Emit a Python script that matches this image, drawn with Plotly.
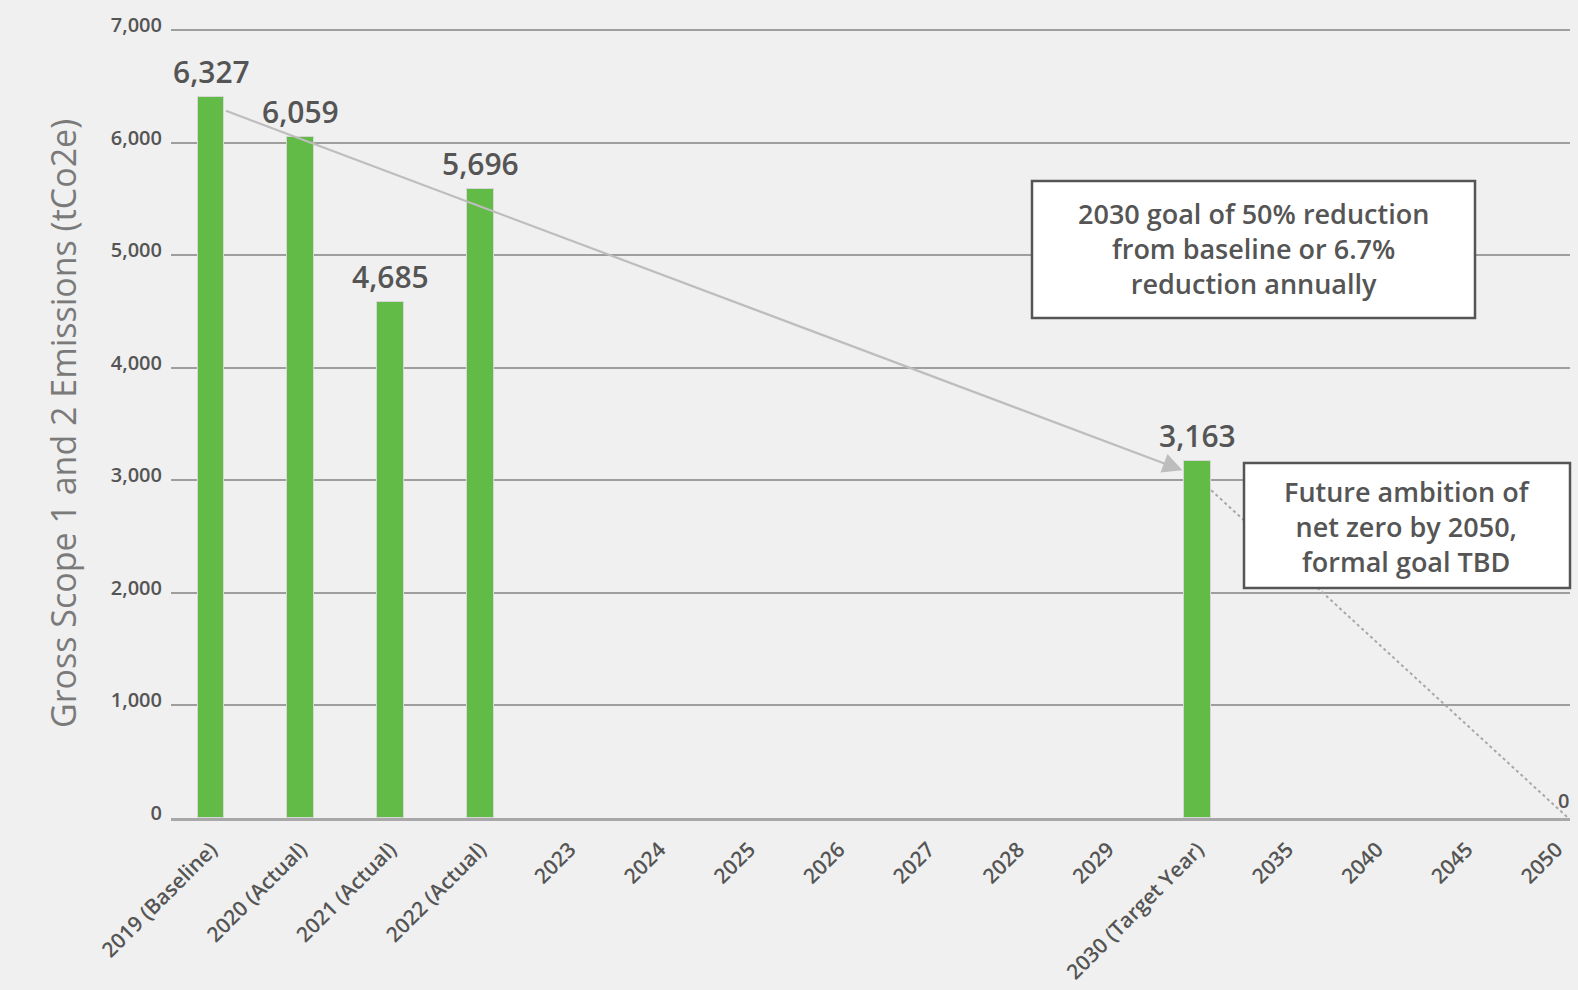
import plotly.graph_objects as go

# ---------------- data ----------------
categories = ["2019 (Baseline)", "2020 (Actual)", "2021 (Actual)", "2022 (Actual)",
              "2023", "2024", "2025", "2026", "2027", "2028", "2029",
              "2030 (Target Year)", "2035", "2040", "2045", "2050"]
bar_index = [0, 1, 2, 3, 11]                       # positions of categories that carry a bar
bar_values = [6410, 6050, 4590, 5590, 3170]        # bar heights as drawn
bar_labels = ["6,327", "6,059", "4,685", "5,696", "3,163"]
y_ticks = [0, 1000, 2000, 3000, 4000, 5000, 6000, 7000]
y_tick_text = ["0", "1,000", "2,000", "3,000", "4,000", "5,000", "6,000", "7,000"]

# reduction path: baseline -> 2030 target (arrow), 2030 -> 2050 net zero (dotted)
goal_path_x = [0.15, 10.83]
goal_path_y = [6290, 3090]
netzero_x = [11.15, 15.13]
netzero_y = [2913, 0]
netzero_label = "0"

box1_text = "2030 goal of 50% reduction<br>from baseline or 6.7%<br>reduction annually"
box2_text = "Future ambition of<br>net zero by 2050,<br>formal goal TBD"
y_title = "Gross Scope 1 and 2 Emissions (tCo2e)"

# ---------------- layout helpers ----------------
W, H = 1578, 990
L, R, T, B = 171, 1570, 29, 818
def px_x(p):
    return (p - L) / (R - L)
def px_y(p):
    return (B - p) / (B - T)

FONT = "Open Sans"
TXT = "#555555"
GREEN = "#62BB46"

fig = go.Figure()

fig.add_trace(go.Bar(
    x=bar_index, y=bar_values, width=0.30,
    marker=dict(color=GREEN, line=dict(color="#d6d6d6", width=1)),
    hoverinfo="skip", showlegend=False,
))

fig.add_trace(go.Scatter(
    x=netzero_x, y=netzero_y, mode="lines",
    line=dict(color="#a8a8a8", width=2, dash="dot"),
    hoverinfo="skip", showlegend=False,
))

annotations = []
for xi, v, lab in zip(bar_index, bar_values, bar_labels):
    annotations.append(dict(
        x=xi, y=v, xref="x", yref="y", text=lab, showarrow=False,
        yanchor="bottom", xanchor="center", yshift=3,
        font=dict(family=FONT, size=30, color=TXT, weight=600),
    ))

# arrow along the 2030 goal path
annotations.append(dict(
    x=goal_path_x[1], y=goal_path_y[1], ax=goal_path_x[0], ay=goal_path_y[0],
    xref="x", yref="y", axref="x", ayref="y", text="", showarrow=True,
    arrowhead=2, arrowsize=1.8, arrowwidth=2.2, arrowcolor="#bdbdbd", standoff=0,
))

annotations.append(dict(
    x=netzero_x[1] - 0.05, y=netzero_y[1], xref="x", yref="y", text=netzero_label,
    showarrow=False, yanchor="middle", xanchor="center", yshift=18,
    font=dict(family=FONT, size=20, color=TXT, weight=600),
))

# boxes
shapes = [
    dict(type="rect", xref="paper", yref="paper",
         x0=px_x(1032), x1=px_x(1475), y0=px_y(318), y1=px_y(181),
         line=dict(color="#555555", width=2.5), fillcolor="white", layer="above"),
    dict(type="rect", xref="paper", yref="paper",
         x0=px_x(1244), x1=px_x(1570), y0=px_y(588), y1=px_y(463),
         line=dict(color="#555555", width=2.5), fillcolor="white", layer="above"),
]
annotations.append(dict(
    x=px_x(1253), y=px_y(249), xref="paper", yref="paper", text=box1_text,
    showarrow=False, xanchor="center", yanchor="middle", align="center",
    font=dict(family=FONT, size=27, color=TXT, weight=600),
))
annotations.append(dict(
    x=px_x(1407), y=px_y(526), xref="paper", yref="paper", text=box2_text,
    showarrow=False, xanchor="center", yanchor="middle", align="center",
    font=dict(family=FONT, size=27, color=TXT, weight=600),
))

# y-axis title
annotations.append(dict(
    x=px_x(63), y=px_y(424), xref="paper", yref="paper", text=y_title,
    showarrow=False, textangle=-90, xanchor="center", yanchor="middle",
    font=dict(family=FONT, size=34, color="#7a7a7a"),
))

fig.update_layout(
    width=W, height=H,
    margin=dict(l=L, r=W - R, t=T, b=H - B, autoexpand=False),
    paper_bgcolor="#f0f0f0", plot_bgcolor="#f0f0f0",
    shapes=shapes, annotations=annotations,
    showlegend=False, bargap=0,
)

fig.update_xaxes(
    range=[-0.446, 15.15], tickmode="array",
    tickvals=list(range(len(categories))), ticktext=categories,
    tickangle=-45, showgrid=False, zeroline=False,
    showline=True, linecolor="#a8a8a8", linewidth=3,
    ticks="", ticklabelstandoff=8,
    tickfont=dict(family=FONT, size=21, color=TXT, weight=600),
)
fig.update_yaxes(
    range=[0, 7012], tickmode="array", tickvals=y_ticks, ticktext=y_tick_text,
    showgrid=True, gridcolor="#9e9e9e", gridwidth=2.2, zeroline=False,
    showline=False, ticks="", ticklabelstandoff=8, ticklabelshift=-5,
    tickfont=dict(family=FONT, size=20, color=TXT, weight=600),
)

fig.write_html("out.html")
